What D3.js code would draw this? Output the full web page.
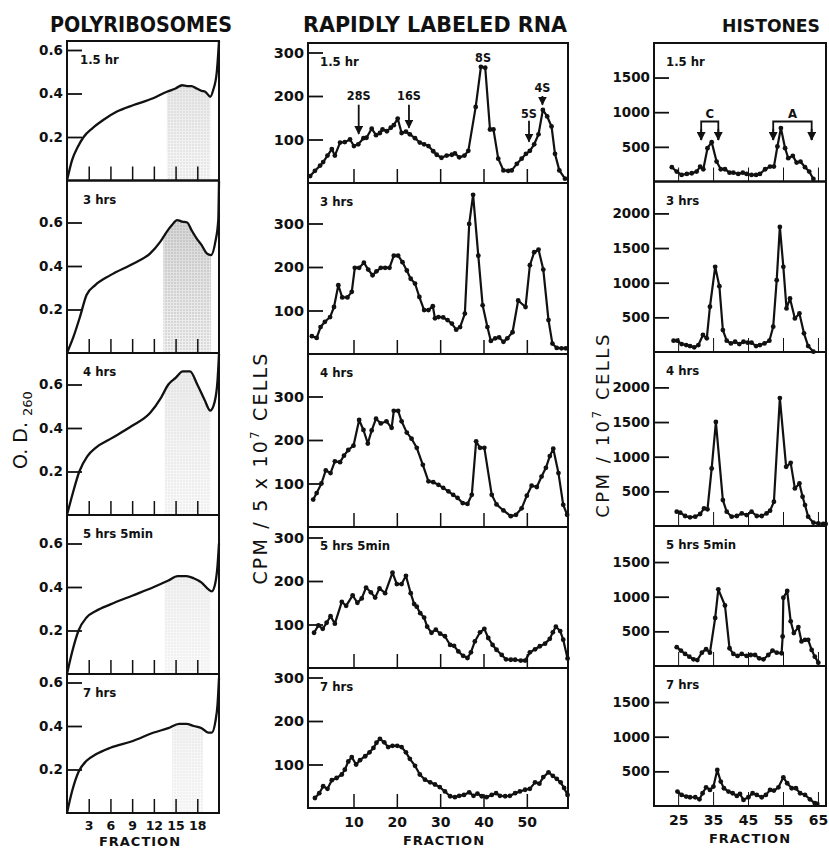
<!DOCTYPE html>
<html><head><meta charset="utf-8">
<script src="https://cdn.jsdelivr.net/npm/d3@7"></script>
<style>body{margin:0;background:#fff} svg{display:block}</style>
</head><body><svg id="c" width="829" height="848"></svg>
<script>
// ---------------- DATA ----------------
const titles = ["POLYRIBOSOMES", "RAPIDLY LABELED RNA", "HISTONES"];
const timeLabels = ["1.5 hr", "3 hrs", "4 hrs", "5 hrs 5min", "7 hrs"];
const polyXTicks = [3, 6, 9, 12, 15, 18];
const rnaXTicks = [10, 20, 30, 40, 50];
const histXTicks = [25, 35, 45, 55, 65];
const polyYTicks = [0.2, 0.4, 0.6];
const rnaYTicks = [100, 200, 300];
const histYTicks = [[500, 1000, 1500], [500, 1000, 1500, 2000], [500, 1000, 1500, 2000], [500, 1000, 1500], [500, 1000, 1500]];

// Polyribosome OD260 profiles [fraction, OD]
const poly_1_5hr = [[0,0],[0.7,0.094],[1.5,0.155],[2.3,0.2],[3.5,0.24],[5,0.278],[6.9,0.317],[9.2,0.347],[11.9,0.378],[13.8,0.408],[15,0.423],[15.9,0.438],[16.6,0.434],[17.2,0.434],[17.9,0.423],[18.6,0.412],[19.1,0.408],[19.8,0.385],[20.2,0.416],[20.7,0.5],[21,0.64]];
const poly_3hr = [[0,0],[0.9,0.075],[1.8,0.167],[2.7,0.267],[3.9,0.312],[6,0.358],[9.2,0.412],[11.5,0.458],[12.9,0.512],[13.8,0.558],[14.5,0.588],[15.2,0.611],[15.9,0.604],[16.6,0.6],[17.2,0.565],[17.9,0.527],[18.6,0.496],[19.3,0.458],[19.9,0.45],[20.5,0.512],[20.9,0.611],[21,0.79]];
const poly_4hr = [[0,0],[0.8,0.1],[1.7,0.2],[2.8,0.27],[4,0.31],[6,0.35],[9,0.41],[11.5,0.47],[13,0.54],[14,0.6],[15,0.63],[16,0.66],[17,0.66],[18,0.6],[19,0.53],[19.8,0.48],[20.4,0.52],[20.8,0.62],[21,0.74]];
const poly_5hr = [[0,0],[0.7,0.1],[1.6,0.2],[2.7,0.26],[4,0.29],[6,0.32],[9,0.36],[12,0.4],[14,0.43],[15.3,0.45],[16.5,0.45],[17.5,0.44],[18.6,0.42],[19.5,0.39],[20,0.38],[20.5,0.42],[20.8,0.5],[21,0.6]];
const poly_7hr = [[0,0],[0.7,0.1],[1.6,0.19],[2.7,0.24],[4,0.27],[6,0.3],[9,0.33],[12,0.37],[14,0.39],[15.5,0.41],[16.5,0.41],[17.5,0.4],[18.6,0.39],[19.5,0.37],[20,0.37],[20.5,0.42],[20.8,0.5],[21,0.62]];
const polyShade = [[13.8, 19.8], [13.3, 19.9], [13.5, 19.8], [13.5, 19.8], [14.5, 18.8]];

// Rapidly labeled RNA, CPM / 5x10^7 cells [fraction, cpm]
const rna_1_5hr = [[0,16],[1.1,28],[2.3,40],[3,48],[4,63],[5,78],[5.7,63],[6.9,93],[8,94],[9.2,100],[10.1,85],[11.1,89],[12.3,103],[13,104],[14.2,125],[15.2,110],[16.1,115],[16.7,123],[17.7,119],[18.6,127],[19.3,133],[20.2,148],[21.1,115],[22.1,118],[23,112],[24.2,103],[25.3,93],[26.3,89],[27.3,85],[28.4,73],[29.2,65],[30.3,58],[31.5,63],[32.7,65],[33.4,68],[34.4,59],[35.6,63],[36.5,74],[38.2,175],[39.4,267],[40.4,265],[41.5,123],[42.3,123],[43.4,56],[44.6,29],[45.7,28],[46.5,29],[47.7,44],[48.8,56],[49.8,67],[50.7,74],[51.7,89],[52.7,112],[53.7,168],[54.7,153],[55.7,130],[56.5,67],[57.5,29],[58.8,10]];
const rna_3hr = [[0.4,41],[1.5,37],[2.4,62],[3.4,74],[4.6,85],[5.5,108],[6.5,158],[7.4,130],[8.6,130],[9.6,143],[10.3,198],[11.3,198],[12.4,210],[13.4,194],[14.4,181],[15.3,190],[16.3,198],[17.3,198],[18.3,198],[19.3,226],[20.3,226],[21.3,211],[22.3,192],[23.2,173],[24.2,162],[25.2,131],[26.3,101],[27.3,101],[28.3,110],[28.8,82],[29.6,85],[30.7,84],[31.7,78],[32.7,70],[33.7,56],[34.6,62],[35.7,93],[36.7,299],[37.6,366],[38.8,226],[39.8,112],[40.9,62],[41.7,30],[42.7,36],[43.6,38],[44.6,28],[45.5,36],[46.7,50],[48,123],[49.7,108],[50.7,204],[51.7,234],[52.7,240],[53.8,194],[55,78],[55.9,24],[56.9,14],[58,13],[59,13]];
const rna_4hr = [[0.7,63],[1.5,78],[2.6,100],[3.6,130],[4.7,124],[5.7,151],[6.9,149],[7.8,164],[8.8,177],[10,187],[11.3,246],[12.3,223],[13.3,192],[14.2,222],[15.2,249],[16.3,238],[17.6,243],[18.8,228],[19.3,267],[20.3,267],[21.1,243],[22.3,217],[23.4,203],[24.6,182],[26,143],[27.3,105],[28.4,103],[29.6,97],[30.7,90],[31.9,82],[33,74],[34,67],[35.2,55],[36.3,53],[37.3,74],[38.3,197],[39.2,182],[40.2,182],[41.9,74],[43,52],[44.6,38],[46.3,25],[47.5,28],[48.8,43],[50,72],[51.1,95],[52.3,92],[53.4,116],[54.4,136],[55.3,163],[56.1,180],[57.3,124],[58.4,51],[59.3,28]];
const rna_5hr5min = [[0.9,81],[1.9,98],[2.9,90],[3.8,104],[4.7,119],[5.7,102],[7.3,152],[8.3,143],[9.8,167],[10.9,150],[11.9,160],[12.9,185],[14,174],[15,162],[16,183],[17.3,172],[19,219],[20,193],[21.1,193],[22.1,212],[23.2,172],[24,147],[24.6,141],[25.4,126],[26.3,116],[27,95],[28,81],[29,88],[30,79],[31.1,73],[32.3,53],[33.2,51],[34.2,38],[35.3,28],[36.3,23],[37.1,36],[38,61],[39.2,82],[40.2,90],[41.1,69],[42.1,53],[43,42],[44.2,30],[45.2,20],[46.3,19],[47.3,19],[48.6,17],[49.6,17],[50.7,36],[51.9,43],[53,50],[54.2,56],[55.3,67],[56,82],[56.7,95],[57.7,85],[58.4,65],[59.4,22]];
const rna_7hr = [[1.1,23],[2.1,34],[3,50],[4,44],[5,64],[6.1,69],[7.3,77],[8,88],[8.8,107],[9.6,117],[10.6,100],[11.5,110],[12.7,119],[13.7,128],[14.6,138],[15.3,150],[16.1,159],[17.1,151],[18,140],[19,143],[20.1,143],[21.1,140],[22.1,128],[23,113],[24.2,97],[25.3,77],[26.5,65],[27.7,59],[28.8,54],[29.9,48],[31.1,38],[32.3,27],[33.4,25],[34.4,28],[35.5,30],[36.7,36],[37.7,28],[38.6,33],[39.6,27],[40.7,25],[41.9,30],[42.9,34],[43.8,28],[45,27],[46.1,28],[47.3,34],[48.4,38],[49.6,42],[50.7,44],[51.9,59],[52.9,56],[53.8,71],[55,82],[56,74],[56.9,67],[57.8,59],[58.6,46],[59.4,30]];

// Histones, CPM / 10^7 cells [fraction, cpm]
const hist_1_5hr = [[23.2,206],[24.6,143],[26,95],[27.5,109],[28.9,119],[30.3,143],[31.3,215],[32.2,177],[33.4,481],[34.6,568],[36,288],[37.2,177],[38.4,177],[39.7,128],[40.8,128],[42.2,109],[43.5,128],[44.6,109],[46,95],[47.3,95],[48.4,109],[49.9,177],[51.3,215],[52.4,215],[53.4,505],[54.4,771],[55.6,481],[56.5,336],[57.8,370],[58.9,273],[60,288],[61.3,206],[62.5,143],[63.7,36]];
const hist_3hr = [[23.7,163],[24.8,163],[26,115],[27.3,100],[28.4,86],[29.6,67],[30.8,100],[32.1,245],[33.2,197],[34.1,653],[35.6,1229],[36.8,950],[37.8,317],[38.9,163],[40.1,124],[41.3,148],[42.5,115],[43.7,148],[44.9,134],[46,134],[47.3,86],[48.4,100],[49.7,124],[51.1,163],[52.2,365],[53.2,1037],[54.1,1805],[55.1,1229],[56,629],[57,773],[58.4,485],[59.7,557],[61,269],[62.2,86],[63.7,5]];
const hist_4hr = [[24.6,206],[25.6,192],[27,144],[28.4,125],[29.9,134],[31.3,173],[32.4,254],[33.4,240],[34.6,830],[35.8,1501],[37.8,374],[38.9,206],[40.3,134],[41.8,144],[43.2,182],[44.6,158],[46,206],[47.5,144],[48.9,144],[50.3,182],[51.3,221],[52.4,350],[54.1,1846],[55.9,854],[57.2,911],[58.4,542],[59.7,614],[60.6,422],[61.3,302],[62.2,134],[63.7,48],[65.1,38],[66.5,29],[67.2,29]];
const hist_5hr5min = [[24.6,271],[25.8,222],[27,174],[28.2,135],[29.4,96],[30.5,86],[31.8,193],[33,242],[34.1,193],[35.6,693],[36.5,1106],[38.4,873],[39.7,256],[40.8,174],[42,145],[43.2,174],[44.6,145],[45.8,159],[47,159],[48.2,111],[49.4,96],[50.8,159],[52,222],[53.2,193],[54.6,184],[54.9,426],[55.1,985],[56.2,1082],[57.2,645],[58.1,475],[59.4,562],[60.3,354],[61.3,378],[62.2,378],[63.2,232],[64.1,135],[65.1,48]];
const hist_7hr = [[24.8,208],[26,160],[27.3,136],[28.4,126],[29.9,126],[31.1,97],[32,184],[33,270],[34.1,232],[35.1,280],[36.2,520],[37.2,352],[38.1,256],[39.4,208],[40.6,184],[41.8,146],[42.7,174],[43.7,88],[45.1,126],[46.3,184],[47.5,160],[48.9,126],[50.1,160],[51.3,232],[52.4,222],[53.7,270],[55.1,414],[56.2,328],[57.5,256],[58.7,256],[59.9,184],[61.3,160],[62.7,97],[64.1,40],[64.8,30]];

// Peak annotations (fraction, label)
const rnaMarkers = ["28S", "16S", "8S", "5S", "4S"];
const rnaMarkerFractions = [11.2, 22.8, 39.9, 50.5, 53.6];
const histGroups = ["C", "A"];
const histGroupFractions = [[31.6, 36.5], [52.2, 63.2]];

// ---------------- DRAWING ----------------
const svg = d3.select("#c");
const BLACK = "#111";
const tickFont = "'DejaVu Sans', sans-serif";
const condFont = "'DejaVu Sans Condensed', 'DejaVu Sans', sans-serif";

const columns = [
  { name: "poly", x0: 67, x1: 219, domain: [0, 21], k: 217.5,
    panels: [[41, 180.5], [180.5, 353], [353, 515], [515, 674], [674, 813]],
    series: [poly_1_5hr, poly_3hr, poly_4hr, poly_5hr, poly_7hr],
    yTicks: [polyYTicks, polyYTicks, polyYTicks, polyYTicks, polyYTicks],
    xTicks: polyXTicks, yFmt: d => d.toFixed(1), labelX: 80, xFont: 12.5 },
  { name: "rna", x0: 308, x1: 568, domain: [-0.5, 59.5], k: 0.435,
    panels: [[43, 183], [183, 354], [354, 527], [527, 668], [668, 808]],
    series: [rna_1_5hr, rna_3hr, rna_4hr, rna_5hr5min, rna_7hr],
    yTicks: [rnaYTicks, rnaYTicks, rnaYTicks, rnaYTicks, rnaYTicks],
    xTicks: rnaXTicks, yFmt: d3.format("d"), labelX: 320, xFont: 14 },
  { name: "hist", x0: 654, x1: 826, domain: [18.1, 67.3], k: 0.0693,
    panels: [[43, 181.5], [181.5, 352], [352, 526], [526, 666], [666, 806]],
    series: [hist_1_5hr, hist_3hr, hist_4hr, hist_5hr5min, hist_7hr],
    yTicks: histYTicks,
    xTicks: histXTicks, yFmt: d3.format("d"), labelX: 666, xFont: 14 }
];

const defs = svg.append("defs");
const grad = defs.append("linearGradient").attr("id", "shade").attr("x1", 0).attr("y1", 0).attr("x2", 0).attr("y2", 1);
grad.append("stop").attr("offset", "0%").attr("stop-color", "#9a9a9a").attr("stop-opacity", 0.7);
grad.append("stop").attr("offset", "100%").attr("stop-color", "#c4c4c4").attr("stop-opacity", 0.3);
const pat = defs.append("pattern").attr("id", "dots").attr("width", 3).attr("height", 3).attr("patternUnits", "userSpaceOnUse");
pat.append("circle").attr("cx", 1).attr("cy", 1).attr("r", 0.7).attr("fill", "#777");
const shadeOpacity = [0.45, 0.75, 0.3, 0.25, 0.25];

columns.forEach((col, ci) => {
  const x = d3.scaleLinear().domain(col.domain).range([col.x0, col.x1]);
  col.x = x;
  col.y = [];
  col.panels.forEach(([top, bot], pi) => {
    const y = d3.scaleLinear().domain([0, (bot - top) / col.k]).range([bot, top]);
    col.y.push(y);
    const g = svg.append("g");

    if (col.name === "poly") {
      const [s0, s1] = polyShade[pi];
      const pts = col.series[pi];
      const area = d3.area().x(d => x(d[0])).y0(y(0)).y1(d => y(d[1])).curve(d3.curveMonotoneX);
      const clipId = "clip" + pi;
      defs.append("clipPath").attr("id", clipId).append("rect")
        .attr("x", x(s0)).attr("y", top).attr("width", x(s1) - x(s0)).attr("height", bot - top);
      g.append("path").datum(pts).attr("d", area).attr("fill", "url(#shade)")
        .attr("opacity", shadeOpacity[pi]).attr("clip-path", `url(#${clipId})`);
      g.append("path").datum(pts).attr("d", area).attr("fill", "url(#dots)")
        .attr("opacity", shadeOpacity[pi] * 0.7).attr("clip-path", `url(#${clipId})`);
    }

    const ya = d3.axisLeft(y).tickValues(col.yTicks[pi]).tickSize(-15).tickPadding(4).tickFormat(col.yFmt);
    const yg = g.append("g").attr("transform", `translate(${col.x0},0)`).call(ya);
    yg.select(".domain").remove();
    yg.selectAll("line").attr("stroke", BLACK).attr("stroke-width", 1.8);
    yg.selectAll("text").attr("font-family", tickFont).attr("font-weight", "bold")
      .attr("font-size", ci === 1 ? 14.5 : 13.5).attr("fill", BLACK);

    const xa = d3.axisBottom(x).tickValues(col.xTicks).tickSize(-14).tickPadding(6)
      .tickFormat(pi === 4 ? d3.format("d") : "");
    const xg = g.append("g").attr("transform", `translate(0,${bot})`).call(xa);
    xg.select(".domain").remove();
    xg.selectAll("line").attr("stroke", BLACK).attr("stroke-width", ci === 2 ? 1 : 1.5);
    xg.selectAll("text").attr("font-family", tickFont).attr("font-weight", "bold")
      .attr("font-size", col.xFont).attr("fill", BLACK).attr("dy", "0.9em");

    g.append("rect").attr("x", col.x0).attr("y", top).attr("width", col.x1 - col.x0).attr("height", bot - top)
      .attr("fill", "none").attr("stroke", BLACK).attr("stroke-width", 2);

    g.append("text").attr("x", col.labelX + (ci === 0 && pi > 0 ? 3 : 0)).attr("y", top + 23)
      .attr("font-family", condFont).attr("font-weight", "bold").attr("font-size", 13).attr("fill", BLACK)
      .text(timeLabels[pi]);

    const data = col.series[pi];
    if (col.name === "poly") {
      g.append("path").datum(data)
        .attr("d", d3.line().x(d => x(d[0])).y(d => y(d[1])).curve(d3.curveMonotoneX))
        .attr("fill", "none").attr("stroke", BLACK).attr("stroke-width", 2.3);
    } else {
      g.append("path").datum(data)
        .attr("d", d3.line().x(d => x(d[0])).y(d => y(d[1])))
        .attr("fill", "none").attr("stroke", BLACK).attr("stroke-width", 2.2).attr("stroke-linejoin", "round");
      g.selectAll("circle.pt").data(data).join("circle").attr("class", "pt")
        .attr("cx", d => x(d[0])).attr("cy", d => y(d[1])).attr("r", 2.4).attr("fill", BLACK);
    }
  });
});

defs.append("marker").attr("id", "arr").attr("viewBox", "0 0 10 10").attr("refX", 9).attr("refY", 5)
  .attr("markerWidth", 5).attr("markerHeight", 5).attr("orient", "auto")
  .append("path").attr("d", "M0,0 L10,5 L0,10 z").attr("fill", BLACK);

{
  const col = columns[1], x = col.x, y = col.y[0];
  const ann = svg.append("g").attr("font-family", condFont).attr("font-weight", "bold").attr("font-size", 12.5).attr("fill", BLACK);
  const textVals = [190, 190, 278, 150, 210];
  const arrowFrom = [180, 180, null, 143, 200];
  const arrowTo = [113, 127, null, 95, 180];
  rnaMarkers.forEach((m, i) => {
    const fx = x(rnaMarkerFractions[i]);
    ann.append("text").attr("x", fx).attr("y", y(textVals[i])).attr("text-anchor", "middle").text(m);
    if (arrowFrom[i] !== null) {
      ann.append("line").attr("x1", fx).attr("x2", fx).attr("y1", y(arrowFrom[i])).attr("y2", y(arrowTo[i]))
        .attr("stroke", BLACK).attr("stroke-width", 1.8).attr("marker-end", "url(#arr)");
    }
  });
}

{
  const col = columns[2], x = col.x, y = col.y[0];
  const ann = svg.append("g").attr("font-family", condFont).attr("font-weight", "bold").attr("font-size", 13).attr("fill", BLACK);
  histGroups.forEach((gname, i) => {
    const [a, b] = histGroupFractions[i];
    const yb = y(866), ya = y(600);
    ann.append("path").attr("d", `M${x(a)},${ya} L${x(a)},${yb} L${x(b)},${yb} L${x(b)},${ya}`)
      .attr("fill", "none").attr("stroke", BLACK).attr("stroke-width", 1.8);
    [a, b].forEach(f => ann.append("line").attr("x1", x(f)).attr("x2", x(f)).attr("y1", y(760)).attr("y2", ya)
      .attr("stroke", BLACK).attr("stroke-width", 1.8).attr("marker-end", "url(#arr)"));
    ann.append("text").attr("x", (x(a) + x(b)) / 2).attr("y", yb - 3).attr("text-anchor", "middle").text(gname);
  });
}

// Titles (centered, fitted to the reference width)
const titleBox = [[141, 182, 21, tickFont], [435, 264, 21, tickFont], [771, 98, 17, condFont]];
titles.forEach((t, i) => {
  svg.append("text").attr("x", titleBox[i][0]).attr("y", 32).attr("text-anchor", "middle")
    .attr("textLength", titleBox[i][1]).attr("lengthAdjust", "spacingAndGlyphs")
    .attr("font-family", titleBox[i][3]).attr("font-weight", "bold").attr("font-size", titleBox[i][2]).attr("fill", BLACK).text(t);
});

[[140, 846], [444, 845], [750, 843]].forEach(([cx, cy]) => {
  svg.append("text").attr("x", cx).attr("y", cy).attr("text-anchor", "middle")
    .attr("font-family", tickFont).attr("font-weight", "bold").attr("font-size", 13).attr("fill", BLACK)
    .attr("letter-spacing", 1).text("FRACTION");
});

{
  const t1 = svg.append("text").attr("transform", "translate(27,430) rotate(-90)").attr("text-anchor", "middle")
    .attr("font-family", "'DejaVu Sans', sans-serif").attr("font-size", 19).attr("fill", BLACK);
  t1.append("tspan").text("O. D. ");
  t1.append("tspan").attr("font-size", 13).attr("dy", 5).text("260");

  const t2 = svg.append("text").attr("transform", "translate(267,468) rotate(-90)").attr("text-anchor", "middle")
    .attr("font-family", "'DejaVu Sans', sans-serif").attr("font-size", 19).attr("fill", BLACK)
    .attr("letter-spacing", 2.2);
  t2.append("tspan").text("CPM / 5 x 10");
  t2.append("tspan").attr("font-size", 12).attr("dy", -8).text("7");
  t2.append("tspan").attr("dy", 8).text(" CELLS");

  const t3 = svg.append("text").attr("transform", "translate(609,425) rotate(-90)").attr("text-anchor", "middle")
    .attr("font-family", "'DejaVu Sans', sans-serif").attr("font-size", 18).attr("fill", BLACK)
    .attr("letter-spacing", 2.5);
  t3.append("tspan").text("CPM / 10");
  t3.append("tspan").attr("font-size", 12).attr("dy", -8).text("7");
  t3.append("tspan").attr("dy", 8).text(" CELLS");
}
</script></body></html>
